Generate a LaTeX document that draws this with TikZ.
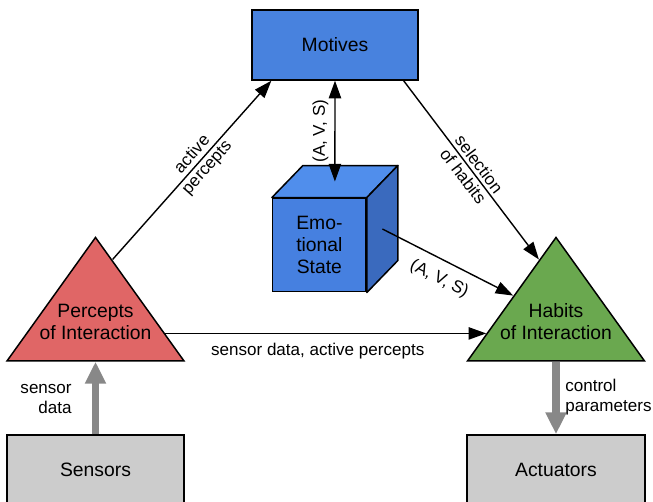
\documentclass[tikz,border=0pt]{standalone}
\usepackage{fontspec}
\setmainfont{Liberation Sans}
\usetikzlibrary{shapes.geometric,arrows.meta,calc}

\definecolor{motiveblue}{RGB}{72,130,222}
\definecolor{cubefront}{RGB}{70,128,224}
\definecolor{cubetopc}{RGB}{80,142,236}
\definecolor{cubeside}{RGB}{58,106,190}
\definecolor{perceptred}{RGB}{224,102,102}
\definecolor{habitgreen}{RGB}{106,168,79}
\definecolor{boxgray}{RGB}{204,204,204}
\definecolor{arrowgray}{RGB}{136,136,136}

\begin{document}
\begin{tikzpicture}[x=0.02cm,y=-0.02cm,
  box/.style={draw=black,line width=0.85pt,align=center,inner sep=0pt,font=\fontsize{11}{12.5}\selectfont},
  tri/.style={draw=black,line width=0.85pt,isosceles triangle,isosceles triangle stretches,shape border rotate=90,inner sep=0pt,minimum width=3.54cm,minimum height=2.47cm},
  txt/.style={align=center,font=\fontsize{11}{12.5}\selectfont},
  lbl/.style={align=center,font=\fontsize{9.7}{11.3}\selectfont},
  arr/.style={line width=0.8pt,-{Triangle[length=10pt,width=7pt]}},
  bigarr/.style={draw=arrowgray,line width=4pt,-{Triangle[length=12.5pt,width=11.3pt]}}]
	\clip (0,0) rectangle (653,502);

	\node[box,fill=motiveblue,minimum width=3.32cm,minimum height=1.4cm] (motives) at (335,45) {Motives};
	\node[box,fill=cubefront,minimum width=1.87cm,minimum height=1.87cm] (emotional) at (319.4,245) {Emo-\\tional\\State};
	\filldraw[fill=cubetopc,line width=0.85pt,line join=round] (emotional.north west) -- +(31,-32) -- ($(emotional.north east)+(31,-32)$) -- (emotional.north east) -- cycle;
	\filldraw[fill=cubeside,line width=0.85pt,line join=round] (emotional.north east) -- +(31,-32) -- ($(emotional.south east)+(31,-32)$) -- (emotional.south east) -- cycle;
	\coordinate (cubetop) at ($(emotional.north)+(15.5,-16)$);
	\coordinate (cubeface) at ($(emotional.east)+(15.5,-16)$);

	\node[tri,fill=perceptred,anchor=lower side] (percepts) at (95.5,361.7) {};
	\node[txt] (perceptstext) at (95.5,322) {Percepts\\of Interaction};
	\node[tri,fill=habitgreen,anchor=lower side] (habits) at (556,361.7) {};
	\node[txt] (habitstext) at (556,322) {Habits\\of Interaction};

	\node[box,fill=boxgray,minimum width=3.55cm,minimum height=1.4cm] (sensors) at (95.5,470) {Sensors};
	\node[box,fill=boxgray,minimum width=3.56cm,minimum height=1.4cm] (actuators) at (556,470) {Actuators};

	\draw[arr] ($(percepts.apex)!0.19!(percepts.right corner)$) -- ($(motives.south west)!0.12!(motives.south east)$) node[lbl,pos=0.55,sloped]{active\\percepts};
	\draw[arr] ($(motives.south west)!0.91!(motives.south east)$) -- ($(habits.apex)!0.19!(habits.left corner)$) node[lbl,pos=0.5,sloped]{selection\\of habits};
	\draw[arr,{Triangle[length=10pt,width=7pt]}-{Triangle[length=10pt,width=7pt]}] (motives.south) -- (cubetop) node[lbl,midway,sloped,above]{(A, V, S)};
	\draw[arr] (cubeface) -- ($(habits.apex)!0.476!(habits.left corner)$) node[lbl,pos=0.5,sloped,below=2.5pt]{(A, V, S)};
	\draw[arr] ($(percepts.apex)!0.776!(percepts.right corner)$) -- ($(habits.apex)!0.776!(habits.left corner)$) node[lbl,pos=0.475,below=2pt]{sensor data, active percepts};

	\draw[bigarr] (sensors.north) -- (percepts.lower side);
	\draw[bigarr] (habits.lower side) -- (actuators.north);
	\node[lbl,align=right,anchor=east,inner sep=0pt] (sensorlabel) at (72,399) {sensor\\data};
	\node[lbl,align=left,anchor=west,inner sep=0pt] (controllabel) at (565,397) {control\\parameters};
\end{tikzpicture}
\end{document}
